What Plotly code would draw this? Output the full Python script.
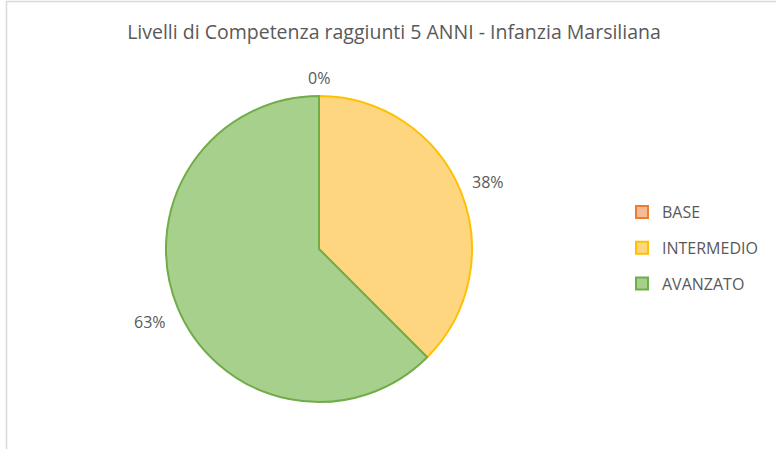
import math
import plotly.graph_objects as go

labels = ["BASE", "INTERMEDIO", "AVANZATO"]
values = [0, 3, 5]
fill_colors = ["#F8B996", "#FFD680", "#A8D08D"]
line_colors = ["#ED7D31", "#FFC000", "#70AD47"]
title_text = "Livelli di Competenza raggiunti 5 ANNI - Infanzia Marsiliana"

W, H = 776, 449
FONT = "Open Sans"
GREY = "#595959"

dom_x = [166 / W, 472 / W]
dom_y = [47 / H, 353 / H]

fig = go.Figure()
fig.add_trace(go.Pie(
    labels=labels,
    values=values,
    sort=False,
    direction="clockwise",
    rotation=0,
    marker=dict(colors=fill_colors, line=dict(color=line_colors, width=2)),
    textinfo="none",
    hoverinfo="label+percent",
    domain=dict(x=dom_x, y=dom_y),
    showlegend=False,
))

# legend entries (one per category) so rows can be spaced like the original
for lab, fc, lc in zip(labels, fill_colors, line_colors):
    fig.add_trace(go.Scatter(
        x=[None], y=[None], mode="markers", name=lab, legendgroup=lab,
        marker=dict(symbol="square", size=10, color=fc, line=dict(color=lc, width=2)),
        showlegend=True, hoverinfo="skip",
    ))

# percentage labels placed outside each slice, from the slice values
total = sum(values)
cx_px = (dom_x[0] + dom_x[1]) / 2 * W
cy_px = (1 - (dom_y[0] + dom_y[1]) / 2) * H
r_px = min((dom_x[1] - dom_x[0]) * W, (dom_y[1] - dom_y[0]) * H) / 2
gap = 12
hw, hh = 16, 9
annotations = []
cum = 0
for v in values:
    frac = v / total
    mid = (cum + frac / 2) * 2 * math.pi
    cum += frac
    ux, uy = math.sin(mid), -math.cos(mid)
    d = r_px + gap + abs(ux) * hw + abs(uy) * hh
    px, py = cx_px + ux * d, cy_px + uy * d + 3
    annotations.append(dict(
        x=px / W, y=1 - py / H, xref="paper", yref="paper",
        text=f"{round(frac * 100 + 1e-9):.0f}%", showarrow=False,
        xanchor="center", yanchor="middle",
        font=dict(family=FONT, size=16, color=GREY),
    ))

fig.update_layout(
    width=W, height=H,
    margin=dict(l=0, r=0, t=0, b=0),
    paper_bgcolor="white",
    plot_bgcolor="white",
    xaxis=dict(visible=False),
    yaxis=dict(visible=False),
    title=dict(text=title_text, x=394 / W, xanchor="center", y=1 - 32 / H, yanchor="middle",
               font=dict(family=FONT, size=19.5, color=GREY)),
    legend=dict(x=622 / W, y=1 - 195 / H, xanchor="left", yanchor="top",
                font=dict(family=FONT, size=16, color=GREY),
                tracegroupgap=12, itemsizing="constant", bgcolor="rgba(0,0,0,0)"),
    annotations=annotations,
    shapes=[dict(type="rect", xref="paper", yref="paper", x0=6.5 / W, x1=1.05, y0=-0.05, y1=1 - 1.5 / H,
                 line=dict(color="#D9D9D9", width=1.5), fillcolor="rgba(0,0,0,0)")],
)

fig.write_html("out.html", config={"displayModeBar": False},
               post_script="document.body.style.margin='0';document.body.style.overflow='hidden';")
